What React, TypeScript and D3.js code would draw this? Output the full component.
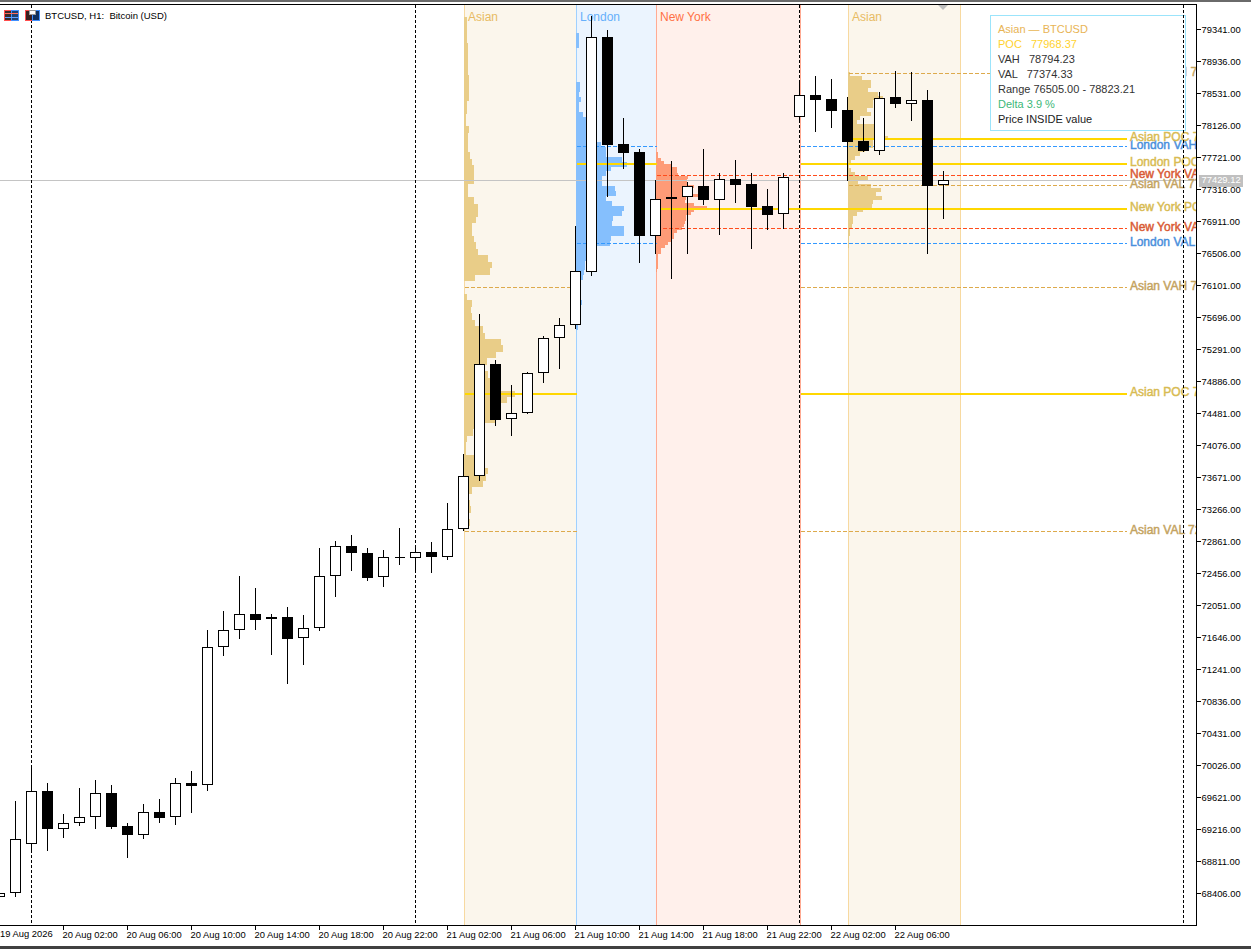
import { useEffect, useRef } from "react";
import * as d3 from "d3";

const WIDTH = 1251;
const HEIGHT = 949;
const PLOT = { top: 4.5, right: 1196.5, bottom: 925.5 };
const FONT = "'Liberation Sans', Arial, sans-serif";

// candles, first one is index -1 (cut by the left edge)
const FIRST_INDEX = -1;
const opens = [
  68368, 68419, 69039, 69697, 69229, 69305, 69381, 69672, 69254, 69153, 69431, 69381, 69798, 69786, 71532, 71747,
  71937, 71887, 71899, 71646, 71773, 72431, 72798, 72709, 72418, 72659, 72659, 72722, 72671, 73026, 73696, 75101,
  74418, 74494, 75000, 75443, 75607, 76284, 79240, 77886, 77784, 76734, 77202, 77227, 77354, 77189, 77443, 77380,
  77101, 77006, 78246, 78506, 78455, 78316, 77924, 77810, 78480, 78405, 78442, 77380,
];
const highs = [
  68406, 69583, 70039, 69811, 69418, 69748, 69849, 69786, 69305, 69545, 69608, 69874, 69963, 71747, 71988, 72431,
  72279, 71950, 72038, 71937, 72785, 72874, 72950, 72785, 72760, 73038, 72823, 72861, 73355, 73975, 75747, 75164,
  74848, 75013, 75468, 75696, 76860, 79512, 79341, 78227, 77835, 77443, 77683, 77417, 77835, 77531, 77696, 77531,
  77329, 77531, 78683, 78759, 78721, 78493, 78227, 78556, 78821, 78809, 78582, 77557,
];
const lows = [
  68356, 68368, 68925, 68950, 69115, 69267, 69229, 69229, 68862, 69102, 69305, 69279, 69431, 69710, 71418, 71633,
  71747, 71431, 71064, 71304, 71735, 72165, 72494, 72367, 72291, 72570, 72494, 72469, 72633, 73000, 73633, 74329,
  74203, 74481, 74873, 75051, 75557, 76228, 77227, 77582, 76392, 76506, 76190, 76506, 77126, 76746, 77151, 76569,
  76810, 76822, 78189, 78050, 78101, 77430, 77797, 77759, 78354, 78189, 76506, 76955,
];
const closes = [
  68406, 69089, 69697, 69229, 69292, 69368, 69672, 69254, 69153, 69431, 69368, 69798, 69773, 71519, 71735, 71937,
  71874, 71899, 71633, 71760, 72418, 72798, 72722, 72405, 72659, 72659, 72722, 72671, 73013, 73684, 75101, 74405,
  74481, 74987, 75430, 75595, 76278, 79240, 77886, 77784, 76734, 77189, 77215, 77354, 77189, 77443, 77380, 77101,
  77000, 77468, 78506, 78455, 78316, 77924, 77810, 78468, 78405, 78442, 77367, 77430,
];

const LAST_PRICE = 77429.12;

const priceTicks = [
  79341, 78936, 78531, 78126, 77721, 77316, 76911, 76506, 76101, 75696, 75291, 74886, 74481, 74076, 73671, 73266,
  72861, 72456, 72051, 71646, 71241, 70836, 70431, 70026, 69621, 69216, 68811, 68406,
];
const timeTicks = [3, 7, 11, 15, 19, 23, 27, 31, 35, 39, 43, 47, 51, 55];
const timeLabels = [
  "20 Aug 02:00", "20 Aug 06:00", "20 Aug 10:00", "20 Aug 14:00", "20 Aug 18:00", "20 Aug 22:00", "21 Aug 02:00",
  "21 Aug 06:00", "21 Aug 10:00", "21 Aug 14:00", "21 Aug 18:00", "21 Aug 22:00", "22 Aug 02:00", "22 Aug 06:00",
];
const daySeparators = [1, 25, 49, 73];

// sessions
const sessionNames = ["Asian", "London", "New York", "Asian"];
const sessionStart = [28, 35, 40, 52];
const sessionEnd = [35, 40, 49, 59];
const sessionPoc = [74735, 77645, 77076, 77968.37];
const sessionVah = [76082, 77860, 77500, 78794.23];
const sessionVal = [72994, 76639, 76829, 77374.33];
const sessionFill = ["#fbf6ec", "#ebf4fe", "#fff0eb", "#fbf6ec"];
const sessionBorder = ["#f7d9a0", "#9fd0ff", "#ffab93", "#f7d9a0"];
const sessionText = ["#e8bb62", "#66b0fb", "#ff7045", "#e8bb62"];
const sessionProfile = ["#e9cd88", "#85bffd", "#fe9b77", "#e9cd88"];
const sessionDash = ["#ddaa4c", "#3399ff", "#ff4c1c", "#ddaa4c"];
const sessionLabelColor = ["#c4a35f", "#4a8fdc", "#d95a33", "#c4a35f"];
const pocLabelColor = "#d8bb52";
const PROJECT_FROM = 49;
const LINE_END = 1127;
const LABEL_X = 1130;

// volume profiles, top to bottom, one value per bin
const asianProfile1 = [
  2.5, 2.5, 2.5, 2.5, 3.5, 3.5, 3.5, 3.5, 3.5, 4.5, 4.5, 5, 5, 3, 3, 2, 2, 5, 3.5, 3.5, 3.5, 6, 8, 10, 10, 10, 3.5,
  3.5, 10, 14, 14, 12, 8, 8, 10, 12, 14, 24, 28, 26, 11, 0, 0, 2.7, 8, 7, 8, 11, 19, 21, 37, 39, 32, 23, 21, 24, 26,
  31, 51, 43, 31, 31, 31, 10, 9, 3, 2, 2, 10, 10, 24, 22, 19, 8, 1, 6, 7, 1, 6, 1,
];
const londonProfile = [
  3, 3, 3, 0, 0, 0, 0, 0, 0, 0, 4, 4, 3, 5, 3, 3, 7, 10, 10, 10, 10, 10, 25, 30, 30, 46, 51, 35, 30, 26, 26, 39, 40,
  30, 36, 48, 46, 37, 36, 48, 48, 35, 34, 20, 12, 10, 9, 9, 8, 7, 0, 0, 0, 0, 6, 0, 0, 0, 0, 2,
];
const newYorkProfile = [
  1.5, 1.5, 5, 8, 16, 21, 21, 22, 32, 31, 31, 38, 36, 36, 42, 30, 29, 38, 51, 38, 35, 30, 30, 29, 28, 26, 21, 18, 18,
  16, 12, 9, 5, 5, 2, 2, 2, 2, 2, 1,
];
const asianProfile2 = [
  2, 14, 23, 23, 20, 30, 35, 25, 25, 19, 23, 12, 9, 26, 26, 37, 40, 25, 25, 17, 12, 7, 3, 1, 3, 7, 20, 10, 23, 33, 28,
  34, 25, 24, 15, 9, 5, 5, 4, 2, 2, 1, 1, 1,
];
const profiles = [asianProfile1, londonProfile, newYorkProfile, asianProfile2];
const profileTop = [79499, 79297, 77794, 78807];
const profileStep = [81.5, 62.6, 38, 50.6];

const infoLines = [
  { text: "Asian \u2014 BTCUSD", color: "#e8b455" },
  { text: "POC   77968.37", color: "#ffd22e" },
  { text: "VAH   78794.23", color: "#333333" },
  { text: "VAL   77374.33", color: "#333333" },
  { text: "Range 76505.00 - 78823.21", color: "#333333" },
  { text: "Delta 3.9 %", color: "#3cb878" },
  { text: "Price INSIDE value", color: "#222222" },
];

const xScale = d3.scaleLinear().domain([0, 1]).range([15.5, 31.5]);
const yScale = d3.scaleLinear().domain([79341, 68406]).range([29.5, 893.5]);
const volScale = d3.scaleLinear().domain([0, 50]).range([0, 50]);

// keep 1px lines on the pixel grid, like the terminal does
const snap = (v: number) => Math.floor(v) + 0.5;
const levelY = (price: number) => snap(yScale(price));
const objectY = (price: number) => snap(yScale(price) + 0.4); // chart objects land a touch lower than candles
// session edges sit one pixel right of the candle centre
const sessionX = (i: number) => snap(xScale(i)) + 1;

type LevelRow = { session: number; price: number; kind: "POC" | "VAH" | "VAL" };

const levelRows: LevelRow[] = sessionNames.flatMap((_, s) => [
  { session: s, price: sessionPoc[s], kind: "POC" as const },
  { session: s, price: sessionVah[s], kind: "VAH" as const },
  { session: s, price: sessionVal[s], kind: "VAL" as const },
]);

const Level = ({ row }: { row: LevelRow }) => {
  const { session, price, kind } = row;
  const isPoc = kind === "POC";
  const y = objectY(price) + (isPoc ? 0.5 : 0);
  const stroke = isPoc ? "#ffd700" : sessionDash[session];
  const props = {
    stroke,
    strokeWidth: isPoc ? 2 : 1,
    strokeDasharray: isPoc ? undefined : "4 2",
    shapeRendering: "crispEdges",
  };
  const x0 = sessionX(sessionStart[session]);
  const x1 = sessionX(sessionEnd[session]);
  // the last session runs straight through, older ones pick up after New York closes
  const isLast = session === 3;
  const labelColor = isPoc ? pocLabelColor : sessionLabelColor[session];
  return (
    <g>
      {isLast ? (
        <line x1={x0} x2={LINE_END} y1={y} y2={y} {...props} />
      ) : (
        <>
          <line x1={x0} x2={x1} y1={y} y2={y} {...props} />
          <line x1={sessionX(PROJECT_FROM)} x2={LINE_END} y1={y} y2={y} {...props} />
        </>
      )}
      <text
        x={LABEL_X}
        y={y - 1}
        dominantBaseline="middle"
        fontFamily={FONT}
        fontSize={12}
        fill={labelColor}
        stroke={labelColor}
        strokeWidth={0.45}
      >
        {`${sessionNames[session]} ${kind} ${price.toFixed(2)}`}
      </text>
    </g>
  );
};

export default function App() {
  const axesRef = useRef<SVGGElement>(null);

  // axes with d3, not React
  useEffect(() => {
    const root = d3.select(axesRef.current);
    root.selectAll("*").remove();

    const yAxis = root
      .append("g")
      .attr("transform", `translate(${PLOT.right},0)`)
      .call(
        d3
          .axisRight(yScale)
          .tickValues(priceTicks)
          .tickSize(4)
          .tickPadding(1)
          .offset(0)
          .tickFormat((d) => d3.format(".2f")(d as number))
      );

    const xAxis = root
      .append("g")
      .attr("transform", `translate(0,${PLOT.bottom})`)
      .call(
        d3
          .axisBottom(xScale)
          .tickValues(timeTicks)
          .tickSize(4)
          .offset(0)
          .tickFormat((_, i) => timeLabels[i])
      );

    root.selectAll(".domain").remove();
    root.selectAll(".tick line").attr("stroke", "#000").attr("shape-rendering", "crispEdges");
    yAxis.selectAll("text").attr("font-family", FONT).attr("font-size", 9.4).attr("fill", "#000");
    xAxis
      .selectAll("text")
      .attr("font-family", FONT)
      .attr("font-size", 9.4)
      .attr("fill", "#000")
      .attr("text-anchor", "start")
      .attr("x", -1)
      .attr("y", 6);
  }, []);

  const candleCount = opens.length;

  return (
    <svg
      width={WIDTH}
      height={HEIGHT}
      style={{ position: "absolute", left: 0, top: 0, display: "block", background: "#fff" }}
    >
      <defs>
        <clipPath id="plotClip">
          <rect x={0} y={PLOT.top} width={PLOT.right} height={PLOT.bottom - PLOT.top} />
        </clipPath>
      </defs>

      {/* window chrome */}
      <rect x={0} y={0} width={WIDTH} height={2} fill="#6a6a6a" />
      <rect x={0} y={946} width={WIDTH} height={3} fill="#404040" />

      <g clipPath="url(#plotClip)">
        {/* session bands */}
        {sessionNames.map((name, s) => {
          const x0 = sessionX(sessionStart[s]) - 0.5;
          const x1 = sessionX(sessionEnd[s]) - 0.5;
          return <rect key={s} x={x0} y={PLOT.top} width={x1 - x0} height={PLOT.bottom - PLOT.top} fill={sessionFill[s]} />;
        })}
        {sessionNames.map((name, s) => {
          const x0 = sessionX(sessionStart[s]);
          const x1 = sessionX(sessionEnd[s]);
          // the next band's left border wins on a shared edge
          const rightColor = s === 0 ? sessionBorder[1] : s === 1 ? sessionBorder[2] : sessionBorder[s];
          return (
            <g key={s} shapeRendering="crispEdges">
              <line x1={x1} x2={x1} y1={PLOT.top} y2={PLOT.bottom} stroke={rightColor} />
              <line x1={x0} x2={x0} y1={PLOT.top} y2={PLOT.bottom} stroke={sessionBorder[s]} />
            </g>
          );
        })}

        {/* volume profiles */}
        {profiles.map((bins, s) => (
          <g key={s} fill={sessionProfile[s]} shapeRendering="crispEdges">
            {bins.map((v, k) => {
              const y0 = Math.round(yScale(profileTop[s] - k * profileStep[s]));
              const y1 = Math.round(yScale(profileTop[s] - (k + 1) * profileStep[s]));
              return (
                <rect
                  key={k}
                  x={sessionX(sessionStart[s]) - 0.5}
                  y={y0}
                  width={volScale(v)}
                  height={y1 - y0}
                />
              );
            })}
          </g>
        ))}

        {/* last price */}
        <line
          x1={0}
          x2={PLOT.right}
          y1={levelY(LAST_PRICE)}
          y2={levelY(LAST_PRICE)}
          stroke="#c4c4c4"
          shapeRendering="crispEdges"
        />

        {/* session levels */}
        {levelRows.map((row, i) => (
          <Level key={i} row={row} />
        ))}

        {/* session names */}
        {sessionNames.map((name, s) => (
          <text
            key={s}
            x={sessionX(sessionStart[s]) + 3.5}
            y={18}
            dominantBaseline="middle"
            fontFamily={FONT}
            fontSize={12}
            fill={sessionText[s]}
          >
            {name}
          </text>
        ))}

        {/* info box */}
        <rect x={990.5} y={15.5} width={195} height={115} fill="#fff" stroke="#9be4fb" shapeRendering="crispEdges" />
        {infoLines.map((line, i) => (
          <text
            key={i}
            x={998}
            y={30 + i * 15}
            dominantBaseline="middle"
            fontFamily={FONT}
            fontSize={11}
            fill={line.color}
            style={{ whiteSpace: "pre" }}
          >
            {line.text}
          </text>
        ))}

        {/* day separators */}
        {daySeparators.map((d) => (
          <line
            key={d}
            x1={snap(xScale(d))}
            x2={snap(xScale(d))}
            y1={PLOT.top}
            y2={PLOT.bottom}
            stroke="#000"
            strokeDasharray="3 2"
            shapeRendering="crispEdges"
          />
        ))}

        {/* candles */}
        {d3.range(candleCount).map((i) => {
          const x = snap(xScale(i + FIRST_INDEX));
          const top = levelY(Math.max(opens[i], closes[i]));
          const bottom = levelY(Math.min(opens[i], closes[i]));
          const down = closes[i] < opens[i];
          return (
            <g key={i} shapeRendering="crispEdges">
              <line x1={x} x2={x} y1={levelY(highs[i])} y2={levelY(lows[i]) + 0.5} stroke="#000" />
              {top === bottom ? (
                <line x1={x - 5} x2={x + 5.5} y1={top} y2={top} stroke="#000" />
              ) : (
                <rect
                  x={x - 5}
                  y={top}
                  width={10}
                  height={bottom - top}
                  fill={down ? "#000" : "#fff"}
                  stroke="#000"
                />
              )}
            </g>
          );
        })}

        {/* shift marker */}
        <path d={d3.line()([[938, 5], [948, 5], [943, 10]]) + "Z"} fill="#bdbdbd" />
      </g>

      {/* symbol icons */}
      <g shapeRendering="crispEdges">
        <rect x={4.5} y={10.5} width={7} height={10} fill="#3a2a2a" stroke="#ff4d4d" />
        <rect x={11.5} y={10.5} width={7} height={10} fill="#1f3f70" stroke="#3f8fff" />
        <line x1={5} x2={18} y1={13.5} y2={13.5} stroke="#ff6a5a" />
        <line x1={5} x2={18} y1={17.5} y2={17.5} stroke="#5fa0ff" />
        <rect x={25.5} y={10.5} width={7} height={10} fill="#3a1f1f" stroke="#ff4d4d" />
        <rect x={32.5} y={10.5} width={7} height={10} fill="#10305f" stroke="#3f8fff" />
        <rect x={29} y={10} width={6} height={4} fill="#fff" stroke="#999" />
      </g>
      <text x={45} y={16.5} dominantBaseline="middle" fontFamily={FONT} fontSize={9.5} fill="#000" style={{ whiteSpace: "pre" }}>
        {"BTCUSD, H1:  Bitcoin (USD)"}
      </text>

      {/* frame */}
      <g stroke="#000" shapeRendering="crispEdges">
        <line x1={0} x2={PLOT.right} y1={PLOT.top} y2={PLOT.top} />
        <line x1={0} x2={PLOT.right + 0.5} y1={PLOT.bottom} y2={PLOT.bottom} />
        <line x1={PLOT.right} x2={PLOT.right} y1={PLOT.top} y2={PLOT.bottom} />
      </g>

      <g ref={axesRef} />

      {/* first date label sits left of its separator */}
      <text x={0} y={935} dominantBaseline="middle" fontFamily={FONT} fontSize={9.4} fill="#000">
        19 Aug 2026
      </text>

      {/* last price tag */}
      <rect x={1199} y={175} width={44} height={12} fill="#c0c0c0" />
      <text x={1201.5} y={181} dominantBaseline="middle" fontFamily={FONT} fontSize={9.4} fill="#fff">
        {LAST_PRICE.toFixed(2)}
      </text>
    </svg>
  );
}
